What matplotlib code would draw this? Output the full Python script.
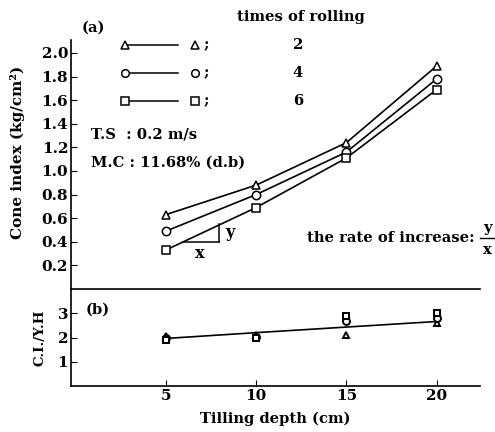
import numpy as np
import matplotlib
matplotlib.use("Agg")
import matplotlib.pyplot as plt
from matplotlib.lines import Line2D

plt.rcParams['font.family'] = ['DejaVu Serif']
plt.rcParams['font.weight'] = 'bold'
plt.rcParams['axes.labelweight'] = 'bold'

# profundidade de preparo (cm)
depth = [5, 10, 15, 20]
rolling = ['2', '4', '6']
markers = ['^', 'o', 's']

# (a) indice de cone (kg/cm2) para 2, 4 e 6 passadas
ci_2 = [0.63, 0.88, 1.24, 1.89]
ci_4 = [0.49, 0.80, 1.16, 1.78]
ci_6 = [0.33, 0.69, 1.11, 1.69]

# (b) C.I./Y.H
ratio_2 = [2.08, 2.10, 2.12, 2.58]
ratio_4 = [1.98, 2.02, 2.70, 2.80]
ratio_6 = [1.90, 1.98, 2.90, 3.02]
fit_b = [1.96, 2.20, 2.43, 2.66]

W, H = 495, 432
fig = plt.figure(figsize=(W / 100, H / 100), dpi=100)

def fx(px):
    return px / W

def fy(py):
    return 1 - py / H

FS = 10.6

ax1 = fig.add_axes([fx(71), fy(289), fx(480) - fx(71), fy(40) - fy(289)])
ax2 = fig.add_axes([fx(71), fy(386), fx(480) - fx(71), fy(289) - fy(386)], sharex=ax1)

kw = dict(color='black', lw=1.2, mfc='white', mec='black', mew=1.1, ms=6)
for vals, m in zip([ci_2, ci_4, ci_6], markers):
    ax1.plot(depth, vals, marker=m, **kw)

ax1.set_xlim(-0.25, 22.4)
ax1.set_ylim(0, 2.11)
ax1.set_yticks(np.arange(0.2, 2.01, 0.2))
ax1.set_yticklabels([f"{v:.1f}" for v in np.arange(0.2, 2.01, 0.2)])
for s in ['top', 'right', 'bottom']:
    ax1.spines[s].set_visible(False)
ax1.tick_params(axis='x', bottom=False, labelbottom=False)
ax1.tick_params(axis='y', direction='in', length=4, pad=2, labelsize=FS + 0.4)
ax1.spines['left'].set_linewidth(1.2)

# triangulo da taxa de aumento (sobre a linha de 6 passadas)
ax1.plot([5.95, 7.95], [0.40, 0.40], color='black', lw=1.1)
ax1.plot([7.95, 7.95], [0.40, 0.555], color='black', lw=1.1)
ax1.text(6.9, 0.37, 'x', ha='center', va='top', fontsize=FS + 1)
ax1.text(8.3, 0.48, 'y', ha='left', va='center', fontsize=FS + 1)

ax2.plot(depth, fit_b, color='black', lw=1.2)
kw2 = dict(ls='none', mfc='white', mec='black', mew=1.4, ms=5)
for vals, m in zip([ratio_2, ratio_4, ratio_6], markers):
    ax2.plot(depth, vals, marker=m, **kw2)

ax2.set_ylim(0, 4)
ax2.set_yticks([1, 2, 3])
ax2.set_xticks(depth)
ax2.spines['right'].set_visible(False)
for s in ['top', 'left', 'bottom']:
    ax2.spines[s].set_linewidth(1.2)
ax2.tick_params(direction='in', length=4, pad=2, labelsize=FS + 0.4)
ax2.set_xlabel('Tilling depth (cm)', fontsize=FS, labelpad=6)

fig.text(fx(18), fy(152), 'Cone index (kg/cm²)', rotation=90,
         ha='center', va='center', fontsize=FS + 0.4)
fig.text(fx(40), fy(338), 'C.I./Y.H', rotation=90,
         ha='center', va='center', fontsize=FS - 1)

fig.text(fx(82), fy(28), '(a)', ha='left', va='center', fontsize=FS)
fig.text(fx(86), fy(310), '(b)', ha='left', va='center', fontsize=FS)
fig.text(fx(237), fy(17), 'times of rolling', ha='left', va='center', fontsize=FS)

# legenda desenhada a mao
for i, (m, lab) in enumerate(zip(markers, rolling)):
    yy = fy(45 + 28 * i)
    fig.add_artist(Line2D([fx(125), fx(178)], [yy, yy], color='black', lw=1.1))
    fig.add_artist(Line2D([fx(125)], [yy], marker=m, mfc='white', mec='black',
                          mew=1.1, ms=5.5))
    fig.add_artist(Line2D([fx(195)], [yy], marker=m, mfc='white', mec='black',
                          mew=1.1, ms=5.5))
    fig.text(fx(204), yy, ';', ha='left', va='center', fontsize=FS)
    fig.text(fx(298), yy, lab, ha='center', va='center', fontsize=FS)

fig.text(fx(91), fy(135), 'T.S  : 0.2 m/s', ha='left', va='center', fontsize=FS)
fig.text(fx(91), fy(163), 'M.C : 11.68% (d.b)', ha='left', va='center', fontsize=FS)

fig.text(fx(307), fy(238), 'the rate of increase:', ha='left', va='center', fontsize=FS)
fig.text(fx(487), fy(228), 'y', ha='center', va='center', fontsize=FS)
fig.add_artist(Line2D([fx(480), fx(494)], [fy(238), fy(238)], color='black', lw=1))
fig.text(fx(487), fy(250), 'x', ha='center', va='center', fontsize=FS)

fig.savefig('out.png', dpi=100)
